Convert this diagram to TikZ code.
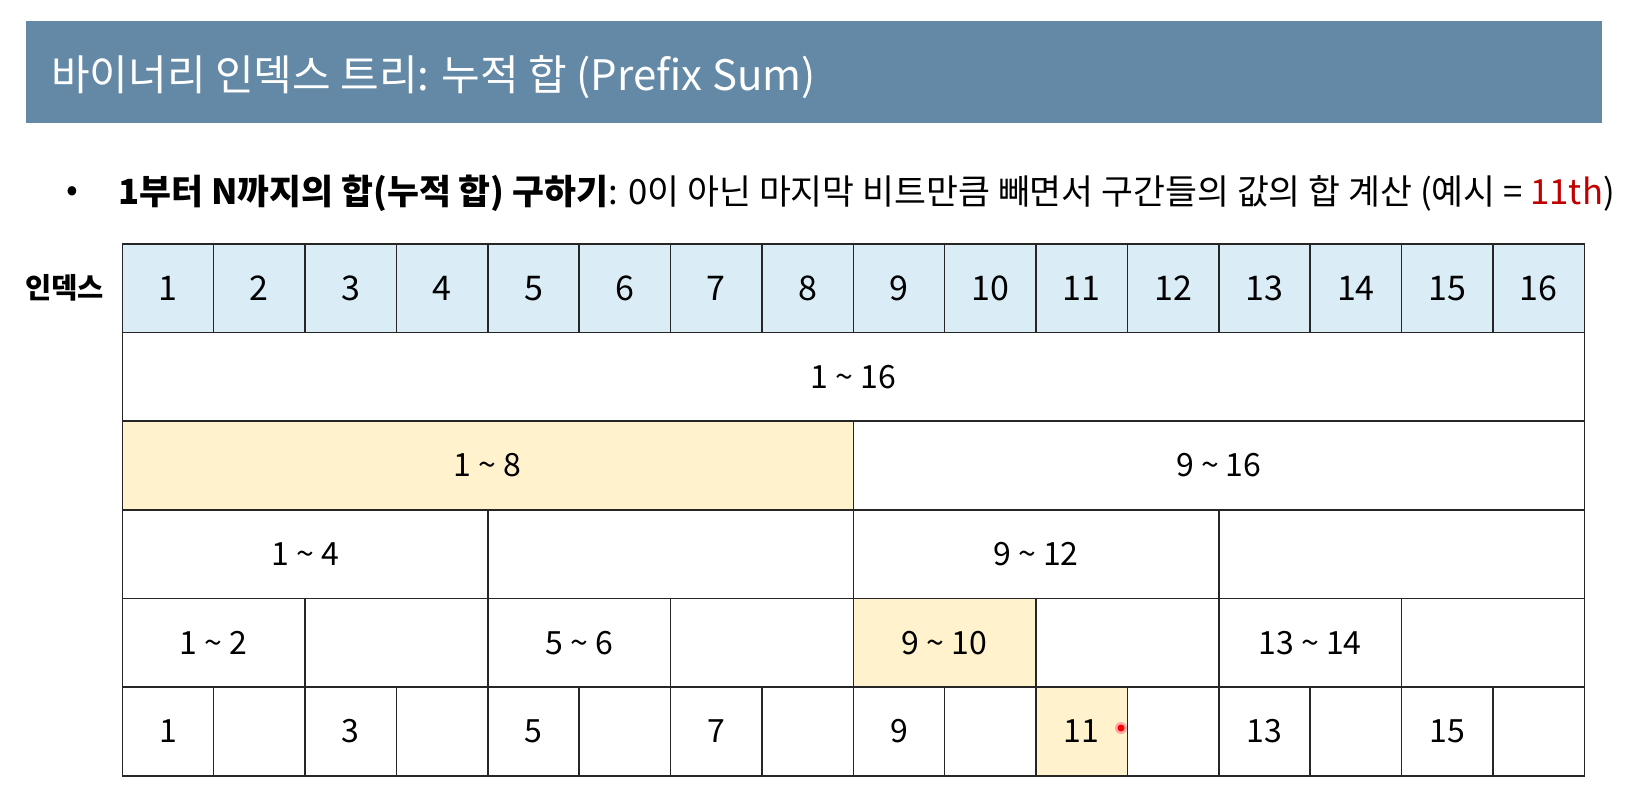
\documentclass[tikz,border=0pt]{standalone}
\usepackage{fontspec}
\setmainfont{Noto Sans CJK KR}
\usetikzlibrary{positioning}
\definecolor{barblue}{RGB}{100,137,166}
\definecolor{idxblue}{RGB}{218,237,247}
\definecolor{sumyellow}{RGB}{255,242,204}
\definecolor{examplered}{RGB}{192,0,0}
\tikzset{
	cell/.style = {
		draw=black!85,
		line width=1.6pt,
		inner sep=0pt,
		anchor=north west,
		minimum height=88.67pt,
		minimum width={(#1)*91.375pt},
		font=\fontsize{32}{32}\selectfont
	},
	index/.style = {
		cell=1,
		fill=idxblue,
		font=\fontsize{34}{34}\selectfont
	},
	title/.style = {
		anchor=base west,
		inner sep=0pt,
		text=white,
		font=\fontsize{42}{42}\selectfont
	},
	bullet/.style = {
		anchor=base west,
		inner sep=0pt,
		font=\fontsize{34.7}{34.7}\selectfont
	}
}

\begin{document}
\begin{tikzpicture}[x=1pt,y=-1pt]
\useasboundingbox (0,0) rectangle (1631,804);
% header bar
\fill[barblue] (26,21) rectangle (1602,123);
\node[title] (head) at (51,90) {바이너리 인덱스 트리: 누적 합 (Prefix Sum)};
% bullet line
\node[bullet, anchor=center] (dot) at (72,194) {•};
\node[bullet] (task) at (118,204) {\textbf{1부터 N까지의 합(누적 합) 구하기}: 0이 아닌 마지막 비트만큼 빼면서 구간들의 값의 합 계산 (예시 = \textcolor{examplered}{11th})};
% index row
\foreach \i in {1,...,16}
	\node[index] (idx\i) at (121.5+\i*91.375-91.375,243) {\i};
\node[left=14pt of idx1, font=\fontsize{28.5}{28.5}\selectfont\bfseries] (idxname) {인덱스};
% ranges, one row after another
\foreach \r/\a/\b/\t/\f in {
	1/1/16/1 \textasciitilde{} 16/white,
	2/1/8/1 \textasciitilde{} 8/sumyellow, 2/9/16/9 \textasciitilde{} 16/white,
	3/1/4/1 \textasciitilde{} 4/white, 3/5/8//white, 3/9/12/9 \textasciitilde{} 12/white, 3/13/16//white,
	4/1/2/1 \textasciitilde{} 2/white, 4/3/4//white, 4/5/6/5 \textasciitilde{} 6/white, 4/7/8//white,
	4/9/10/9 \textasciitilde{} 10/sumyellow, 4/11/12//white, 4/13/14/13 \textasciitilde{} 14/white, 4/15/16//white,
	5/1/1/1/white, 5/2/2//white, 5/3/3/3/white, 5/4/4//white, 5/5/5/5/white, 5/6/6//white,
	5/7/7/7/white, 5/8/8//white, 5/9/9/9/white, 5/10/10//white, 5/11/11/11/sumyellow,
	5/12/12//white, 5/13/13/13/white, 5/14/14//white, 5/15/15/15/white, 5/16/16//white}
	\node[cell={\b-\a+1}, fill=\f] (s\a-\b) at (121.5+\a*91.375-91.375,243+\r*88.67) {\t};
% pointer
\fill[red!35] (1121,728) circle (6pt);
\fill[red] (1121,728) circle (3.5pt);
\end{tikzpicture}
\end{document}
